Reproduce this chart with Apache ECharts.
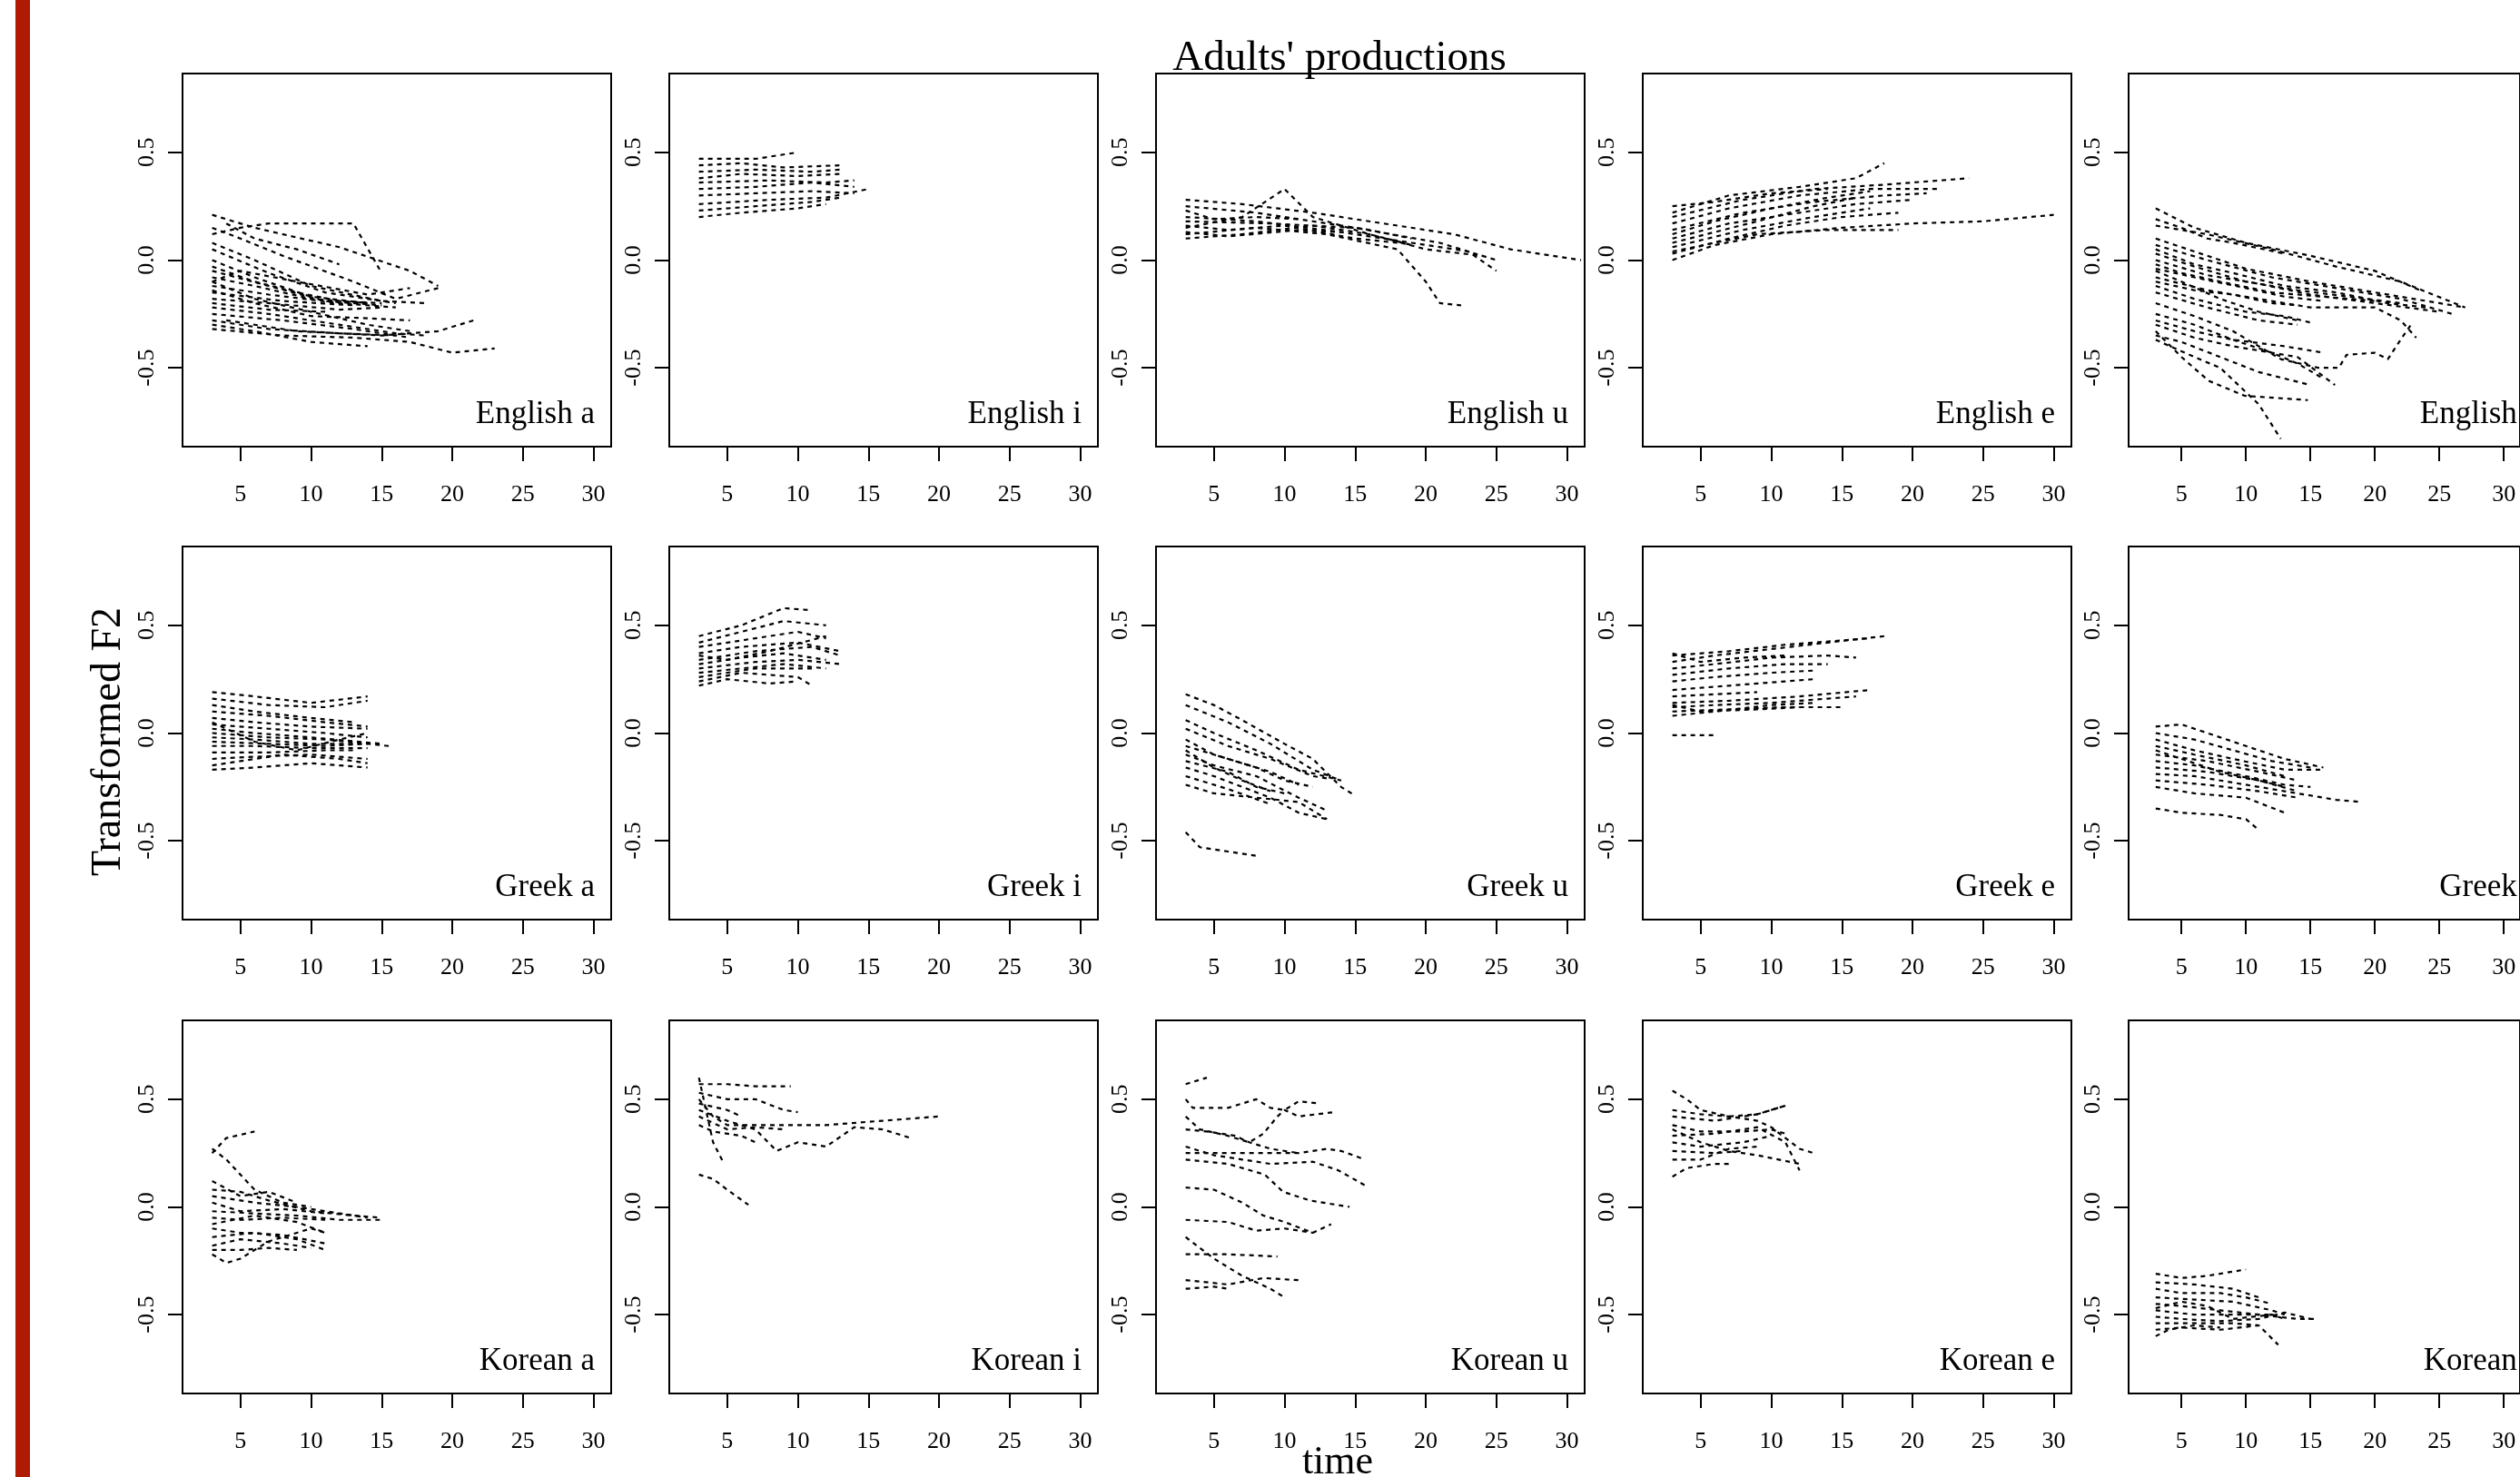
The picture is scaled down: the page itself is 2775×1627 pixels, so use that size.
<!DOCTYPE html>
<html>
<head>
<meta charset="utf-8">
<script src="https://cdn.jsdelivr.net/npm/echarts@6/dist/echarts.min.js"></script>
<style>
html,body{margin:0;padding:0;background:#fff;}
#chart{width:2775px;height:1627px;}
</style>
</head>
<body>
<div id="chart"></div>
<script>
// ---- data: each panel = list of trajectories, each trajectory = [time, transformed F2] points ----
const englishA = [
  [[3,0.12],[5,0.15],[7,0.17],[13,0.17],[15,-0.06]],
  [[3,0.21],[6,0.15],[12,0.06],[17,-0.05],[19,-0.12]],
  [[3,0.15],[5,0.1],[8,0.02],[13,-0.1],[16,-0.18],[19,-0.13]],
  [[3,0.08],[6,0.0],[10,-0.12],[15,-0.19],[18,-0.2]],
  [[3,0.05],[7,-0.06],[11,-0.15],[16,-0.2]],
  [[3,0.0],[6,-0.08],[10,-0.17],[14,-0.2]],
  [[3,-0.05],[7,-0.12],[11,-0.19],[15,-0.21]],
  [[3,-0.08],[6,-0.12],[10,-0.18],[14,-0.2]],
  [[3,-0.12],[7,-0.16],[12,-0.2],[16,-0.22]],
  [[3,-0.15],[8,-0.19],[13,-0.21]],
  [[3,-0.18],[7,-0.2],[12,-0.23],[15,-0.22]],
  [[3,-0.2],[7,-0.23],[11,-0.24]],
  [[3,-0.1],[6,-0.18],[10,-0.24],[14,-0.3],[17,-0.33]],
  [[3,-0.22],[7,-0.25],[12,-0.3],[16,-0.34],[18,-0.35]],
  [[3,-0.25],[8,-0.28],[13,-0.32],[17,-0.36]],
  [[3,-0.28],[7,-0.32],[12,-0.34],[16,-0.35]],
  [[3,-0.3],[6,-0.33],[10,-0.38],[14,-0.4]],
  [[3,-0.32],[8,-0.35],[13,-0.36],[17,-0.38],[20,-0.43],[23,-0.41]],
  [[4,-0.28],[9,-0.33],[15,-0.35],[19,-0.33],[21.5,-0.28]],
  [[3,-0.1],[5,-0.05],[9,-0.1],[14,-0.16],[17,-0.13]],
  [[4,0.17],[6,0.1],[9,0.05],[12,-0.02]],
  [[3,-0.03],[6,-0.1],[9,-0.15],[12,-0.19],[15,-0.2]],
  [[3,-0.14],[6,-0.2],[10,-0.26],[14,-0.27],[17,-0.28]]
];
const englishI = [
  [[3,0.47],[7,0.47],[10,0.5]],
  [[3,0.44],[6,0.45],[9,0.43],[13,0.44]],
  [[3,0.41],[7,0.42],[11,0.41],[13,0.42]],
  [[3,0.38],[6,0.4],[10,0.39],[13,0.4]],
  [[3,0.36],[8,0.37],[12,0.36],[14,0.37]],
  [[3,0.33],[7,0.34],[11,0.36],[14,0.34]],
  [[3,0.3],[7,0.31],[11,0.32],[14,0.31]],
  [[3,0.26],[8,0.28],[12,0.29],[15,0.33]],
  [[3,0.23],[7,0.25],[11,0.27],[13,0.29]],
  [[3,0.2],[6,0.22],[10,0.24],[12,0.26]]
];
const englishU = [
  [[3,0.28],[7,0.26],[12,0.22],[17,0.17],[22,0.12],[26,0.05],[31,0.0]],
  [[3,0.15],[7,0.2],[10,0.33],[12,0.2],[16,0.12],[19,0.07]],
  [[3,0.12],[8,0.15],[13,0.12],[18,0.05],[20,-0.1],[21,-0.2],[22.5,-0.21]],
  [[3,0.2],[8,0.18],[14,0.13],[19,0.08],[23,0.04],[25,-0.05]],
  [[3,0.18],[9,0.17],[15,0.15],[21,0.08],[25,0.0]],
  [[3,0.1],[7,0.12],[12,0.16],[16,0.12],[20,0.05],[24,0.02]],
  [[3,0.25],[8,0.22],[12,0.18],[16,0.14],[19,0.1]],
  [[3,0.16],[6,0.14],[10,0.16],[15,0.1],[18,0.08]],
  [[3,0.13],[6,0.11],[11,0.14],[14,0.13]],
  [[3,0.23],[5,0.19],[8,0.2],[11,0.19]]
];
const englishE = [
  [[3,0.22],[7,0.3],[12,0.34],[16,0.38],[18,0.45]],
  [[3,0.2],[8,0.28],[13,0.33],[18,0.35],[24,0.38]],
  [[3,0.17],[7,0.24],[12,0.3],[17,0.33],[22,0.33]],
  [[3,0.14],[8,0.22],[13,0.27],[18,0.3],[21,0.31]],
  [[3,0.1],[7,0.17],[12,0.22],[16,0.26],[20,0.28]],
  [[3,0.06],[8,0.14],[13,0.2],[17,0.24]],
  [[3,0.03],[7,0.1],[11,0.16],[15,0.2],[19,0.22]],
  [[3,0.0],[6,0.07],[10,0.12],[15,0.15],[20,0.17],[25,0.18],[30,0.21]],
  [[3,0.12],[6,0.18],[10,0.24],[14,0.29],[17,0.32]],
  [[3,0.25],[6,0.27],[10,0.31],[14,0.33]],
  [[3,0.04],[9,0.12],[14,0.14],[19,0.14]],
  [[3,0.08],[9,0.18],[13,0.25],[16,0.29]]
];
const englishO = [
  [[3,0.24],[6,0.15],[10,0.08],[15,0.02],[20,-0.05],[23.5,-0.14]],
  [[3,0.16],[7,0.12],[12,0.05],[17,-0.03],[22,-0.1],[27,-0.22]],
  [[3,0.1],[6,0.04],[10,-0.04],[15,-0.1],[20,-0.15],[25,-0.2],[27,-0.22]],
  [[3,0.07],[7,0.0],[12,-0.08],[17,-0.13],[22,-0.18],[26,-0.25]],
  [[3,0.03],[6,-0.03],[10,-0.1],[14,-0.14],[18,-0.17],[22,-0.2]],
  [[3,0.0],[7,-0.07],[11,-0.11],[15,-0.16],[20,-0.2],[25,-0.24]],
  [[3,-0.04],[6,-0.08],[10,-0.13],[13,-0.17],[16,-0.19]],
  [[3,-0.08],[7,-0.14],[11,-0.18],[15,-0.22],[20,-0.22],[22,-0.28],[23.2,-0.36]],
  [[3,-0.12],[6,-0.18],[10,-0.24],[13,-0.26],[15,-0.29]],
  [[3,-0.15],[7,-0.22],[11,-0.28],[14,-0.3]],
  [[3,-0.2],[6,-0.26],[9,-0.33],[12.7,-0.46],[15.6,-0.5],[17.2,-0.5],[17.8,-0.44],[20,-0.43],[21,-0.46],[22.1,-0.36],[22.8,-0.3]],
  [[3,-0.25],[6,-0.3],[9,-0.37],[12,-0.43],[14,-0.48],[16,-0.55]],
  [[3,-0.3],[6,-0.36],[9,-0.4],[11,-0.42],[14,-0.45],[16.9,-0.58]],
  [[3,-0.33],[5,-0.45],[7.1,-0.56],[9.9,-0.63],[14.8,-0.65]],
  [[3,-0.37],[6,-0.45],[8,-0.5],[11,-0.67],[12.7,-0.83]],
  [[3,-0.35],[5,-0.38],[8,-0.45],[11,-0.52],[13,-0.55],[15,-0.58]],
  [[3,-0.05],[5,-0.1],[8,-0.18],[11,-0.24],[14,-0.28]],
  [[3,0.05],[6,-0.02],[9,-0.06],[13,-0.12],[17,-0.15],[21,-0.2],[24,-0.22]],
  [[3,-0.28],[6,-0.33],[9,-0.37],[13,-0.4],[16,-0.43]],
  [[3,0.19],[5,0.15],[7,0.1],[9,0.08],[13,0.03]],
  [[3,-0.02],[5,-0.06],[8,-0.1],[12,-0.15],[16,-0.17],[20,-0.19]],
  [[3,-0.1],[6,-0.14],[9,-0.16],[12,-0.2],[14,-0.21]]
];
const greekA = [
  [[3,0.19],[6,0.17],[10,0.14],[14,0.17]],
  [[3,0.16],[7,0.13],[11,0.12],[14,0.15]],
  [[3,0.13],[6,0.1],[10,0.07],[13,0.05]],
  [[3,0.1],[7,0.08],[11,0.05],[14,0.03]],
  [[3,0.07],[6,0.05],[10,0.03],[14,0.02]],
  [[3,0.04],[7,0.02],[11,0.0],[14,-0.02]],
  [[3,0.02],[6,0.0],[10,-0.02],[15,-0.05]],
  [[3,0.0],[7,-0.02],[11,-0.03],[15.5,-0.06]],
  [[3,-0.02],[6,-0.03],[10,-0.05],[13,-0.05]],
  [[3,-0.04],[7,-0.05],[11,-0.06],[14,-0.05]],
  [[3,-0.06],[6,-0.06],[10,-0.07],[14,-0.07]],
  [[3,-0.09],[7,-0.09],[11,-0.08],[13,-0.08]],
  [[3,-0.12],[6,-0.11],[10,-0.1],[14,-0.12]],
  [[3,-0.15],[5,-0.13],[8,-0.1],[12,-0.12],[14,-0.14]],
  [[3,-0.17],[6,-0.16],[10,-0.14],[14,-0.16]],
  [[3,0.05],[6,-0.04],[9,-0.08],[12,-0.03],[14,0.0]]
];
const greekI = [
  [[3,0.45],[6,0.5],[9,0.58],[11,0.57]],
  [[3,0.42],[6,0.47],[9,0.52],[12,0.5]],
  [[3,0.4],[7,0.44],[10,0.47],[12,0.44]],
  [[3,0.37],[6,0.4],[10,0.42],[13,0.38]],
  [[3,0.34],[7,0.38],[11,0.4],[13,0.36]],
  [[3,0.32],[6,0.35],[9,0.37],[12,0.34]],
  [[3,0.3],[7,0.33],[10,0.34],[13,0.32]],
  [[3,0.28],[6,0.3],[9,0.32],[12,0.3]],
  [[3,0.26],[7,0.3],[11,0.3]],
  [[3,0.24],[6,0.28],[10,0.26],[11,0.22]],
  [[3,0.22],[5,0.25],[8,0.23],[10,0.24]],
  [[3,0.36],[5,0.34],[8,0.38],[12,0.45]]
];
const greekU = [
  [[3,0.18],[5,0.13],[7,0.06],[10,-0.05],[12,-0.12],[14,-0.25],[15,-0.29]],
  [[3,0.13],[6,0.05],[9,-0.05],[12,-0.17],[14,-0.22]],
  [[3,0.06],[5,0.0],[8,-0.08],[11,-0.17],[14,-0.22]],
  [[3,0.02],[6,-0.06],[9,-0.12],[12,-0.2],[13,-0.21]],
  [[3,-0.03],[5,-0.1],[8,-0.16],[10,-0.22],[12,-0.25]],
  [[3,-0.06],[6,-0.12],[9,-0.18],[11,-0.24]],
  [[3,-0.1],[5,-0.15],[8,-0.2],[11,-0.3],[13,-0.36]],
  [[3,-0.13],[6,-0.18],[8,-0.25],[10,-0.28]],
  [[3,-0.16],[5,-0.2],[7,-0.25],[9,-0.3],[11,-0.37],[13,-0.4]],
  [[3,-0.2],[6,-0.26],[9,-0.33]],
  [[3,-0.24],[5,-0.28],[8,-0.3],[11,-0.32],[13,-0.4]],
  [[3,-0.46],[4,-0.53],[6,-0.55],[8,-0.57]],
  [[3,-0.08],[5,-0.16],[7,-0.22],[9,-0.27]]
];
const greekE = [
  [[3,0.33],[6,0.36],[10,0.39],[14,0.42],[18,0.45]],
  [[3,0.36],[7,0.38],[11,0.41],[15,0.43],[17,0.44]],
  [[3,0.3],[6,0.32],[10,0.35],[14,0.36],[16,0.35]],
  [[3,0.27],[7,0.3],[11,0.32],[14,0.32]],
  [[3,0.24],[6,0.26],[10,0.28],[13,0.29]],
  [[3,0.2],[7,0.22],[11,0.24],[13,0.25]],
  [[3,0.17],[6,0.18],[9,0.19]],
  [[3,0.14],[7,0.15],[12,0.17],[17,0.2]],
  [[3,0.12],[6,0.13],[10,0.14],[14,0.16],[16,0.17]],
  [[3,0.1],[7,0.11],[11,0.12],[15,0.12]],
  [[3,0.08],[6,0.1],[10,0.13],[13,0.14]],
  [[3,0.13],[5,0.1],[9,0.11],[12,0.12]],
  [[3,-0.01],[6,-0.01]],
  [[3,0.37],[5,0.33],[8,0.35],[11,0.36]]
];
const greekO = [
  [[3,0.03],[5,0.04],[7,0.0],[10,-0.06],[13,-0.12],[16,-0.16]],
  [[3,0.0],[6,-0.03],[9,-0.08],[12,-0.13],[15,-0.16]],
  [[3,-0.03],[6,-0.08],[9,-0.12],[13,-0.17],[16,-0.17]],
  [[3,-0.06],[6,-0.1],[10,-0.15],[13,-0.2]],
  [[3,-0.1],[7,-0.13],[11,-0.18],[14,-0.22]],
  [[3,-0.13],[6,-0.15],[10,-0.2],[13,-0.24],[15,-0.25]],
  [[3,-0.16],[7,-0.18],[11,-0.22],[14,-0.27]],
  [[3,-0.19],[6,-0.2],[10,-0.24],[14,-0.28],[17,-0.31],[19,-0.32]],
  [[3,-0.22],[7,-0.24],[11,-0.27],[14,-0.3]],
  [[3,-0.25],[6,-0.28],[10,-0.3],[13,-0.37]],
  [[3,-0.35],[5,-0.37],[8,-0.38],[10,-0.4],[11,-0.45]],
  [[3,-0.08],[5,-0.12],[8,-0.18],[11,-0.22],[13,-0.25]]
];
const koreanA = [
  [[3,0.25],[4,0.32],[6,0.35]],
  [[3,0.27],[4,0.22],[5,0.15],[6,0.08],[8,0.02],[10,0.0]],
  [[3,0.12],[5,0.05],[7,0.07],[9,0.02]],
  [[3,0.08],[5,0.07],[7,0.03],[10,-0.02],[13,-0.04],[15,-0.05]],
  [[3,0.05],[6,0.02],[9,0.0],[12,-0.03],[14,-0.05]],
  [[3,0.02],[5,-0.02],[8,-0.01],[11,-0.03]],
  [[3,-0.02],[6,-0.03],[9,-0.04],[12,-0.06],[15,-0.06]],
  [[3,-0.05],[5,-0.06],[8,-0.05],[11,-0.06]],
  [[3,-0.08],[6,-0.04],[9,-0.07],[11,-0.12]],
  [[3,-0.1],[5,-0.12],[8,-0.13],[11,-0.17]],
  [[3,-0.14],[6,-0.12],[9,-0.15],[11,-0.2]],
  [[3,-0.18],[5,-0.15],[8,-0.17],[10,-0.19]],
  [[3,-0.22],[4,-0.26],[5,-0.24],[7,-0.16],[10,-0.1],[11,-0.12]],
  [[3,-0.2],[5,-0.2],[7,-0.19],[9,-0.2]]
];
const koreanI = [
  [[3,0.57],[5,0.57],[7,0.56],[9.5,0.56]],
  [[3,0.53],[5,0.5],[7,0.5],[9,0.45],[10,0.44]],
  [[3,0.5],[4,0.42],[5,0.38],[8,0.38],[12,0.38],[16,0.4],[20,0.42]],
  [[3,0.45],[5,0.4],[7,0.36],[8.5,0.26],[10,0.3],[12,0.28],[14,0.37],[16,0.36],[18,0.32]],
  [[3,0.42],[5,0.36],[7,0.37],[9,0.36]],
  [[3,0.38],[4,0.35],[6,0.33],[7,0.3]],
  [[3,0.6],[3.5,0.45],[4,0.3],[4.7,0.21]],
  [[3,0.15],[4,0.13],[5,0.08],[6.5,0.01]],
  [[3,0.48],[5,0.45],[6,0.42]]
];
const koreanU = [
  [[3,0.57],[4.5,0.6]],
  [[3,0.5],[3.5,0.46],[6,0.46],[8,0.5],[9,0.46],[10,0.45],[11,0.49],[12.5,0.48]],
  [[3,0.42],[4,0.36],[6,0.33],[7.5,0.3],[8.5,0.34],[9.5,0.42],[10,0.45],[11,0.42],[13.5,0.44]],
  [[3,0.36],[4.5,0.35],[6.5,0.33],[7.5,0.3],[9,0.27],[11,0.25]],
  [[3,0.25],[7,0.25],[11,0.25],[13,0.27],[14,0.26],[15.7,0.22]],
  [[3,0.28],[5,0.24],[7,0.22],[9,0.2],[12,0.21],[13.8,0.17],[15.7,0.1]],
  [[3,0.22],[6,0.2],[8.6,0.15],[9.9,0.07],[11.8,0.03],[14.6,0.0]],
  [[3,0.09],[5,0.08],[7,0.02],[8.5,-0.04],[10,-0.07],[12,-0.12],[13.3,-0.08]],
  [[3,-0.06],[6,-0.07],[8,-0.11],[10,-0.1],[12,-0.12]],
  [[3,-0.22],[6,-0.22],[9.5,-0.23]],
  [[3,-0.34],[6,-0.36],[8.5,-0.33],[11,-0.34]],
  [[3,-0.14],[5,-0.24],[7,-0.32],[9,-0.38],[10,-0.42]],
  [[3,-0.38],[5,-0.37],[6,-0.38]]
];
const koreanE = [
  [[3,0.54],[4,0.5],[5,0.45],[7,0.42],[9,0.43],[11,0.47]],
  [[3,0.45],[5,0.43],[7,0.42],[9,0.4],[10,0.37],[12,0.27],[13,0.25]],
  [[3,0.42],[6,0.4],[9,0.43],[11,0.47]],
  [[3,0.38],[5,0.35],[8,0.35],[10,0.36],[11,0.34]],
  [[3,0.33],[6,0.34],[9,0.37],[11,0.3],[12,0.17]],
  [[3,0.3],[5,0.28],[8,0.3],[10,0.33]],
  [[3,0.26],[6,0.25],[8,0.26]],
  [[3,0.22],[5,0.22],[7,0.27],[9,0.28]],
  [[3,0.14],[4,0.18],[6,0.2],[7,0.2]],
  [[3,0.36],[5,0.3],[7,0.26],[9,0.24],[12,0.2]]
];
const koreanO = [
  [[3,-0.31],[5,-0.33],[7,-0.32],[9,-0.3],[10,-0.29]],
  [[3,-0.35],[6,-0.36],[9,-0.38],[11,-0.42]],
  [[3,-0.38],[5,-0.4],[8,-0.4],[10,-0.42],[12,-0.45]],
  [[3,-0.42],[6,-0.43],[9,-0.44],[12,-0.48],[13,-0.5]],
  [[3,-0.45],[5,-0.46],[8,-0.48],[11,-0.5],[14,-0.52],[15.5,-0.52]],
  [[3,-0.48],[6,-0.5],[9,-0.5],[12,-0.5]],
  [[3,-0.51],[5,-0.52],[8,-0.53],[11,-0.52],[13,-0.49],[15,-0.52]],
  [[3,-0.54],[6,-0.54],[9,-0.54],[11,-0.55]],
  [[3,-0.57],[5,-0.56],[8,-0.57],[11,-0.55],[12.5,-0.64]],
  [[3,-0.6],[4,-0.57],[6,-0.55],[8,-0.56]],
  [[3,-0.47],[5,-0.44],[7,-0.46],[9,-0.52],[12,-0.5],[13,-0.52]]
];

const panelNames = ['English a','English i','English u','English e','English o',
                    'Greek a','Greek i','Greek u','Greek e','Greek o',
                    'Korean a','Korean i','Korean u','Korean e','Korean o'];
const panelData = [englishA, englishI, englishU, englishE, englishO,
                   greekA, greekI, greekU, greekE, greekO,
                   koreanA, koreanI, koreanU, koreanE, koreanO];
const xTicks = [5, 10, 15, 20, 25, 30];
const yTicks = [-0.5, 0, 0.5];
const titleText = "Adults' productions";
const xTitle = 'time';
const yTitle = 'Transformed F2';

// ---- layout ----
const FONT = 'Liberation Serif';
const colLeft = [201, 737, 1273, 1809, 2344];
const rowTop = [81, 602, 1124];
const PW = 472, PH = 411;

const grids = [], xAxes = [], yAxes = [], series = [], graphics = [];
graphics.push({type:'rect', shape:{x:17, y:0, width:16, height:1627}, style:{fill:'#ae1b02'}, silent:true});

for (let p = 0; p < 15; p++) {
  const r = Math.floor(p / 5), c = p % 5;
  const left = colLeft[c], top = rowTop[r];
  grids.push({left: left, top: top, width: PW, height: PH, show: true,
              borderColor: '#000', borderWidth: 2, backgroundColor: 'transparent'});
  xAxes.push({type: 'value', gridIndex: p, min: 0.9, max: 31.25, position: 'bottom',
    axisLine: {show: false, onZero: false}, splitLine: {show: false},
    axisTick: {show: true, inside: false, length: 16, customValues: xTicks,
               lineStyle: {color: '#000', width: 2}},
    axisLabel: {show: true, customValues: xTicks, margin: 40, color: '#000',
                fontFamily: FONT, fontSize: 26}});
  yAxes.push({type: 'value', gridIndex: p, min: -0.866, max: 0.866, position: 'left',
    axisLine: {show: false, onZero: false}, splitLine: {show: false},
    axisTick: {show: true, inside: false, length: 16, customValues: yTicks,
               lineStyle: {color: '#000', width: 2}},
    axisLabel: {show: true, customValues: yTicks, margin: 26, rotate: 90, color: '#000',
                fontFamily: FONT, fontSize: 26,
                formatter: v => Number(v).toFixed(1)}});
  panelData[p].forEach((curve) => {
    series.push({type: 'line', xAxisIndex: p, yAxisIndex: p, data: curve,
      showSymbol: false, symbol: 'none', silent: true, animation: false, clip: true,
      lineStyle: {color: '#000', width: 2.2, type: [5, 5]}});
  });
  graphics.push({type: 'text', x: left + PW - 18, y: top + PH - 18, silent: true,
    style: {text: panelNames[p], fontFamily: FONT, fontSize: 35, fill: '#000',
            align: 'right', verticalAlign: 'bottom'}});
}
graphics.push({type: 'text', x: 1475, y: 65, silent: true,
  style: {text: titleText, fontFamily: FONT, fontSize: 47, fill: '#000', align: 'center', verticalAlign: 'middle'}});
graphics.push({type: 'text', x: 1473, y: 1611, silent: true,
  style: {text: xTitle, fontFamily: FONT, fontSize: 44, fill: '#000', align: 'center', verticalAlign: 'middle'}});
graphics.push({type: 'text', x: 120, y: 817, rotation: Math.PI / 2, silent: true,
  style: {text: yTitle, fontFamily: FONT, fontSize: 46, fill: '#000', align: 'center', verticalAlign: 'middle'}});

const chart = echarts.init(document.getElementById('chart'), null, {renderer: 'canvas'});
chart.setOption({
  animation: false,
  backgroundColor: '#fff',
  grid: grids, xAxis: xAxes, yAxis: yAxes, series: series,
  graphic: graphics
});
</script>
</body>
</html>
